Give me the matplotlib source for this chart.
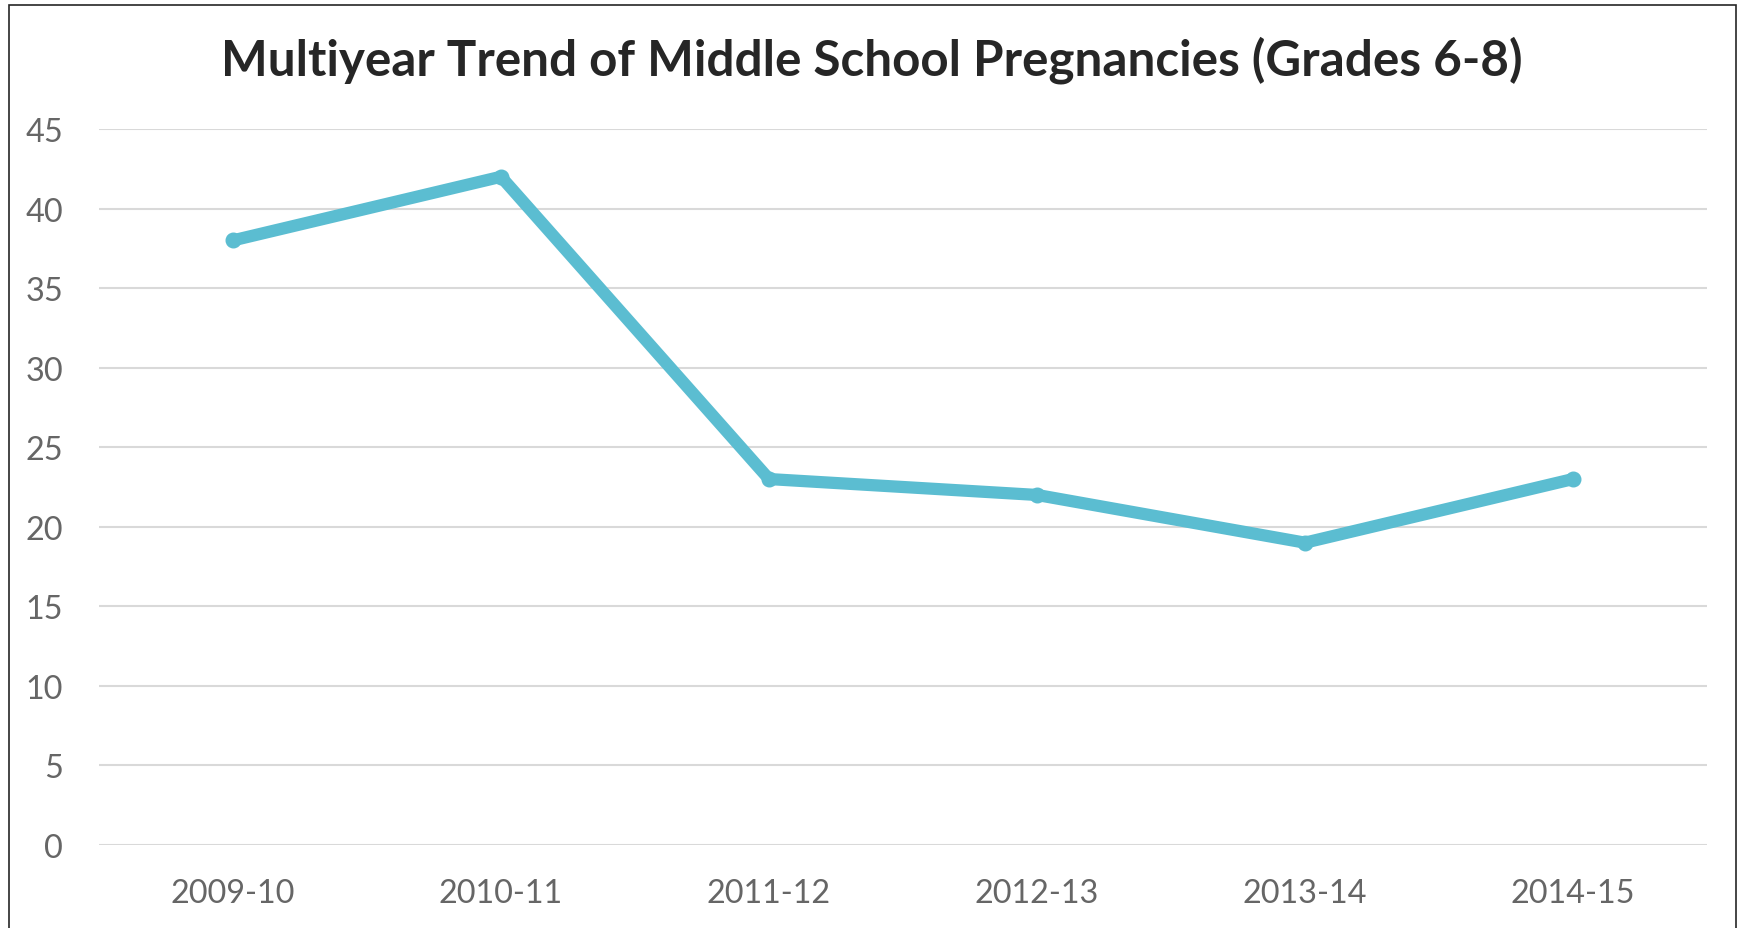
import matplotlib
matplotlib.use("Agg")
import matplotlib.pyplot as plt
from matplotlib.patches import Rectangle

categories = ["2009-10", "2010-11", "2011-12", "2012-13", "2013-14", "2014-15"]
values = [38, 42, 23, 22, 19, 23]
yticks = [0, 5, 10, 15, 20, 25, 30, 35, 40, 45]
title = "Multiyear Trend of Middle School Pregnancies (Grades 6-8)"

W, H = 1741, 929
fig = plt.figure(figsize=(W / 100, H / 100), dpi=100)
fig.patch.set_facecolor("white")

ax = fig.add_axes([99 / W, (H - 846) / H, (1707 - 99) / W, (846 - 130) / H])
x = list(range(len(categories)))
ax.plot(x, values, color="#5BBDD1", linewidth=8.8, solid_joinstyle="miter",
        solid_capstyle="round", marker="o", markersize=10.5, zorder=3)
ax.set_xlim(-0.5, len(categories) - 0.5)
ax.set_ylim(0, 45)
ax.set_yticks(yticks)
ax.set_xticks(x)
ax.set_xticklabels(categories)
for s in ax.spines.values():
    s.set_visible(False)
ax.grid(axis="y", color="#D9D9D9", linewidth=1.5)
ax.set_axisbelow(True)
ax.tick_params(axis="both", length=0, colors="#666666", labelsize=23.3)
ax.tick_params(axis="y", pad=26)
ax.tick_params(axis="x", pad=24)
for lab in ax.get_xticklabels() + ax.get_yticklabels():
    lab.set_fontfamily("Lato")

fig.text(872 / W, (H - 60) / H, title, ha="center", va="center",
         fontsize=35.6, fontweight="bold", color="#262626", family="Lato")

# chart border (bottom edge is outside the image)
fig.patches.append(Rectangle((9 / W, -0.05), (1736 - 9) / W, (H - 5.5) / H + 0.05,
                             transform=fig.transFigure, fill=False,
                             edgecolor="#262626", linewidth=1.2, clip_on=False))

fig.savefig("out.png", dpi=100)
